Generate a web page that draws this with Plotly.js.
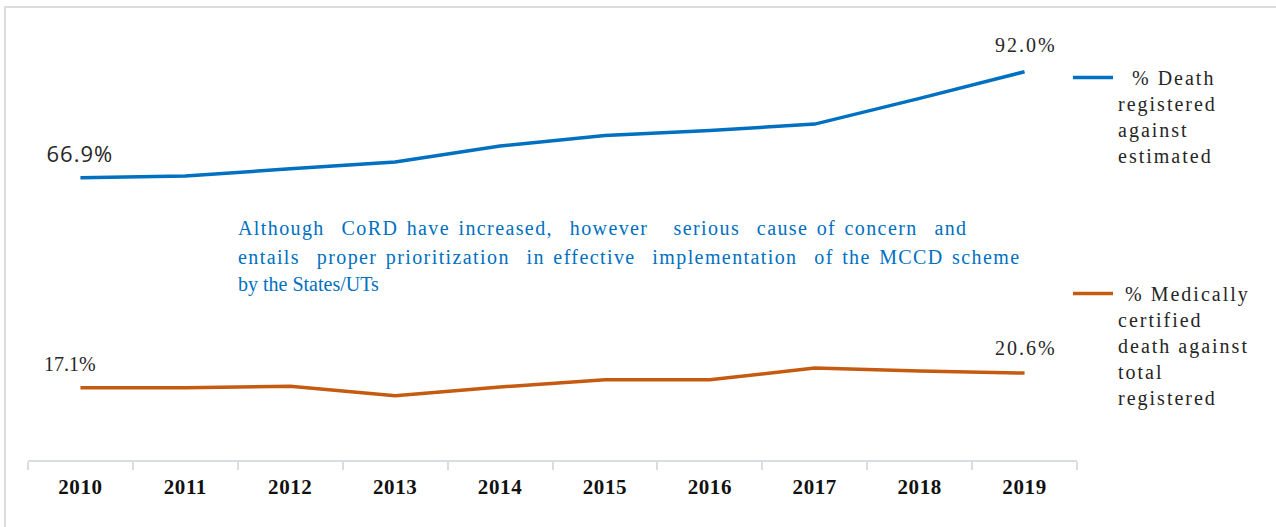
<!DOCTYPE html>
<html>
<head>
<meta charset="utf-8">
<script src="https://cdn.plot.ly/plotly-3.0.1.min.js"></script>
<style>
html,body{margin:0;padding:0;overflow:hidden;background:#fff;}
#wrap{position:relative;width:1276px;height:527px;overflow:hidden;}
#chart{position:absolute;left:0;top:0;width:1276px;height:527px;}
#frame{position:absolute;left:4px;top:6px;width:1300px;height:600px;border:2px solid #dcdcdc;pointer-events:none;box-sizing:border-box;}
#chart .xtick text{letter-spacing:0.6px;}
#chart g.annotation[data-index="0"] .annotation-text{letter-spacing:1px;}
#chart g.annotation[data-index="1"] .annotation-text,
#chart g.annotation[data-index="3"] .annotation-text{letter-spacing:2px;}
#chart g.annotation[data-index="4"] .annotation-text,
#chart g.annotation[data-index="5"] .annotation-text{letter-spacing:1.4px;word-spacing:2px;}
</style>
</head>
<body>
<div id="wrap"><div id="chart"></div><div id="frame"></div></div>
<script>
const years = ['2010','2011','2012','2013','2014','2015','2016','2017','2018','2019'];
const deathRegistered = [66.9, 67.3, 69.0, 70.6, 74.4, 76.9, 78.1, 79.6, 85.7, 92.0];
const medicallyCertified = [17.1, 17.1, 17.5, 15.2, 17.3, 19.0, 19.0, 21.8, 21.1, 20.6];
const seriesNames = [
  '&nbsp;&nbsp;% Death<br>registered<br>against<br>estimated',
  '&nbsp;% Medically<br>certified<br>death against<br>total<br>registered'
];
const noteLines = [
  'Although&nbsp; CoRD have increased,&nbsp; however&nbsp;&nbsp; serious&nbsp; cause of concern&nbsp; and',
  'entails&nbsp; proper prioritization&nbsp; in effective&nbsp; implementation&nbsp; of the MCCD scheme',
  'by the States/UTs'
];

const BLUE = '#0070c0', ORANGE = '#c55a11';
const serif = 'Liberation Serif, Times New Roman, serif';
const last = years.length - 1;
const pct = v => v.toFixed(1) + '%';

const traces = [
  {x: years, y: deathRegistered, type: 'scatter', mode: 'lines', name: seriesNames[0],
   line: {color: BLUE, width: 3.5}, legend: 'legend', hoverinfo: 'skip'},
  {x: years, y: medicallyCertified, type: 'scatter', mode: 'lines', name: seriesNames[1],
   line: {color: ORANGE, width: 3.5}, legend: 'legend2', hoverinfo: 'skip'}
];

const W = 1276, H = 527;
const labelFont = {family: serif, size: 20, color: '#262626'};
// category axis: annotation x is the category index
const dataLabel = (idx, yv, dx, dy, font) => ({
  xref: 'x', yref: 'y', x: idx, y: yv, text: pct(yv), showarrow: false,
  xshift: dx, yshift: dy, font: font
});
const annotations = [
  dataLabel(0, deathRegistered[0], 0, 25, {family: 'Open Sans, sans-serif', size: 22, color: '#262626'}),
  dataLabel(last, deathRegistered[last], 1, 27, labelFont),
  dataLabel(0, medicallyCertified[0], -10, 24, labelFont),
  dataLabel(last, medicallyCertified[last], 1, 25, labelFont)
];
const noteY = [229, 257, 284];
noteLines.forEach((t, i) => annotations.push({
  xref: 'paper', yref: 'paper', x: (236 - 28) / 1049, y: (460 - noteY[i]) / 422,
  xanchor: 'left', yanchor: 'middle', align: 'left', showarrow: false, text: t,
  font: {family: serif, size: 20, color: BLUE}
}));

const legendFont = {family: serif, size: 20, color: '#262626'};
const layout = {
  width: W, height: H,
  margin: {l: 28, r: 199, t: 38, b: 67, autoexpand: false},
  paper_bgcolor: 'rgba(0,0,0,0)', plot_bgcolor: 'rgba(0,0,0,0)',
  showlegend: true,
  xaxis: {
    type: 'category', range: [-0.5, 9.5], showgrid: false, zeroline: false,
    showline: true, linecolor: '#d9dde3', linewidth: 2,
    ticks: 'outside', tickson: 'boundaries', ticklen: 8, tickwidth: 2, tickcolor: '#d9dde3',
    ticklabelstandoff: 7,
    tickfont: {family: serif, size: 21, color: '#111', weight: 'bold'}
  },
  yaxis: {range: [0, 100], visible: true, showticklabels: false, ticks: '', showline: false,
          showgrid: false, zeroline: false, fixedrange: true},
  legend: {
    xref: 'container', yref: 'container', x: 1068 / W, y: 1 - 58 / H, xanchor: 'left', yanchor: 'top',
    valign: 'top', itemwidth: 40, font: legendFont, bgcolor: 'rgba(0,0,0,0)'
  },
  legend2: {
    xref: 'container', yref: 'container', x: 1068 / W, y: 1 - 274 / H, xanchor: 'left', yanchor: 'top',
    valign: 'top', itemwidth: 40, font: legendFont, bgcolor: 'rgba(0,0,0,0)'
  },
  annotations: annotations
};

const gd = document.getElementById('chart');
Plotly.newPlot(gd, traces, layout, {staticPlot: true, displayModeBar: false}).then(() => {
  gd.querySelectorAll('.infolayer g[class^="legend"] text').forEach(t => { t.style.letterSpacing = '2px'; });
  gd.querySelectorAll('.infolayer g[class^="legend"] .scrollbox').forEach(s => {
    s.removeAttribute('clip-path'); s.style.clipPath = 'none';
  });
});
</script>
</body>
</html>
